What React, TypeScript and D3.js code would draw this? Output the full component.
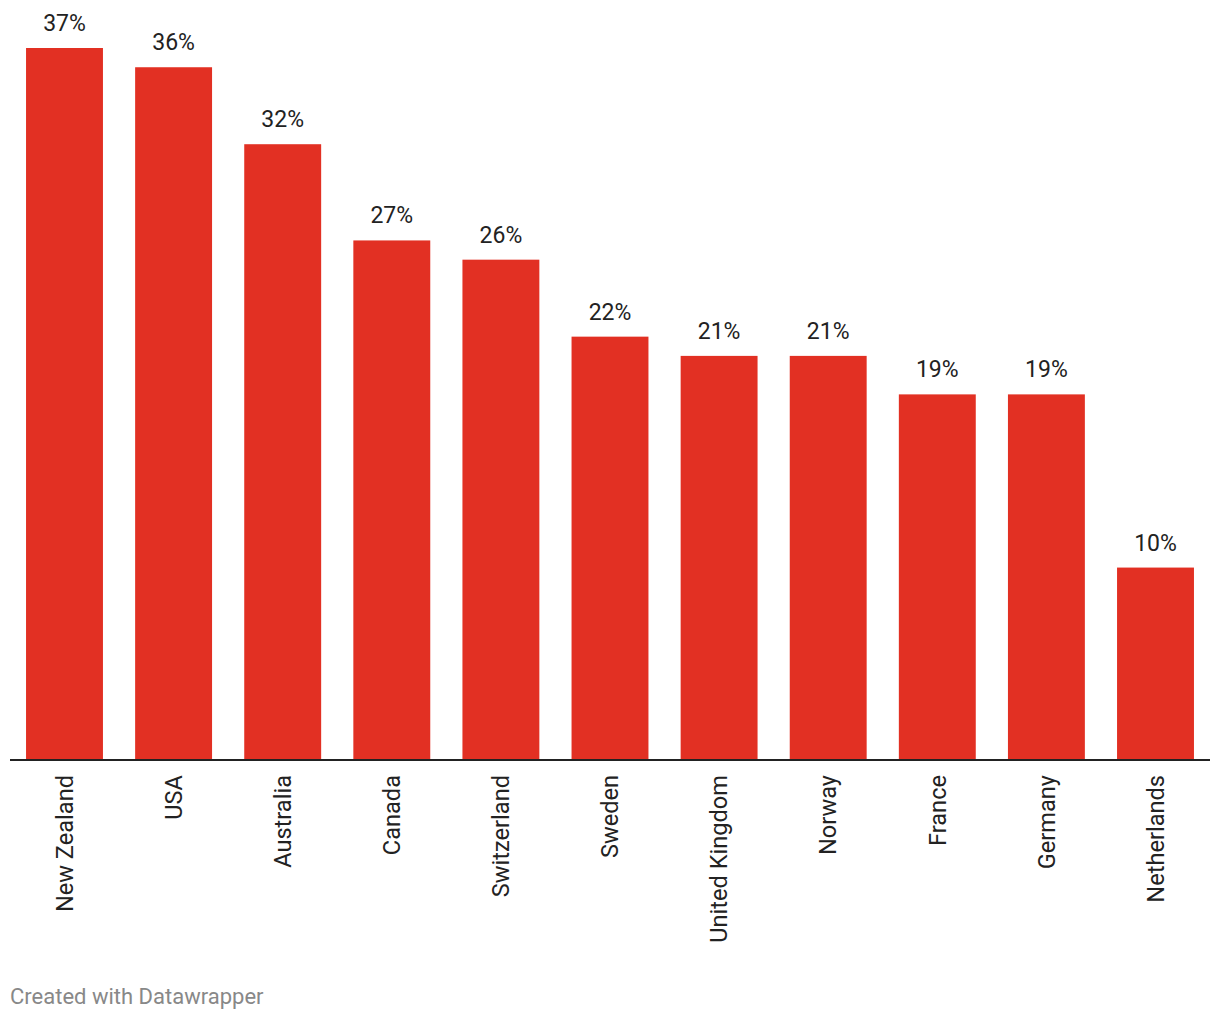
import React from "react";
import * as d3 from "d3";

const countries = ["New Zealand", "USA", "Australia", "Canada", "Switzerland", "Sweden", "United Kingdom", "Norway", "France", "Germany", "Netherlands"];
const values = [37, 36, 32, 27, 26, 22, 21, 21, 19, 19, 10];

const W = 1220;
const H = 1020;
const baseY = 760;
const FONT = "Roboto, 'Noto Sans', sans-serif";

export default function App() {
  const x = d3.scaleBand<string>().domain(countries).range([10, 1210]).paddingInner(0.295).paddingOuter(0.147);
  const y = d3.scaleLinear().domain([0, 37]).range([baseY, 48]);
  return (
    <svg width={W} height={H} style={{ position: "absolute", left: 0, top: 0, background: "#fff" }}>
      {countries.map((c, i) => (
        <g key={c}>
          <rect x={x(c)} y={y(values[i])} width={x.bandwidth()} height={baseY - y(values[i])} fill="#e23023" />
          <text x={x(c)! + x.bandwidth() / 2} y={y(values[i]) - 17} textAnchor="middle" fontFamily={FONT} fontSize={23} fill="#222">
            {values[i]}%
          </text>
          <text
            transform={`translate(${x(c)! + x.bandwidth() / 2},${775}) rotate(-90)`}
            textAnchor="end"
            dy="0.35em"
            fontFamily={FONT}
            fontSize={23.6}
            fill="#222"
          >
            {c}
          </text>
        </g>
      ))}
      <line x1={10} x2={1210} y1={baseY} y2={baseY} stroke="#222" strokeWidth={2} />
      <text x={10} y={1004} fontFamily={FONT} fontSize={22} fill="#888">Created with Datawrapper</text>
    </svg>
  );
}
